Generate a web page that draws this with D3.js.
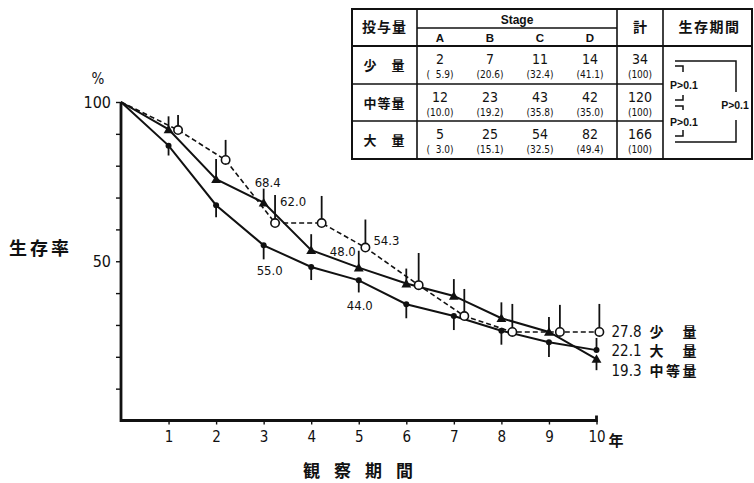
<!DOCTYPE html>
<html>
<head>
<meta charset="utf-8">
<script src="https://cdn.jsdelivr.net/npm/d3@7"></script>
<style>
    body { margin: 0; background: #fff; }
    svg { display: block; }
    text { fill: #111; }
    .num { font-family: "Liberation Sans Narrow", "DejaVu Sans Condensed", "Liberation Sans", sans-serif; }
    .jp { font-family: "Noto Sans CJK JP", sans-serif; font-weight: 700; }
    .series { fill: none; stroke: #111; }
</style>
</head>
<body>
<div id="wrapper"></div>
<script>
// data
const years = [0, 1, 2, 3, 4, 5, 6, 7, 8, 9, 10];
// the open-circle series is plotted a little right of each year in the original
const smallDoseYears = [0, 1.2, 2.2, 3.24, 4.22, 5.14, 6.26, 7.22, 8.23, 9.23, 10.06];
const smallDose = [100, 91.2, 81.8, 62.0, 62.0, 54.3, 42.5, 32.8, 27.8, 27.8, 27.8];
const mediumDose = [100, 91.4, 75.8, 68.4, 53.5, 48.0, 43.0, 39.1, 32.1, 27.8, 19.3];
const largeDose = [100, 86.3, 67.6, 55.0, 48.2, 44.0, 36.5, 32.8, 28.2, 24.6, 22.1];
// error bar lengths (%), + up / - down, none at year 0
const smallDoseErr = [0, 4.7, 6.3, 8.8, 8.5, 8.8, 10.1, 8.5, 8.8, 8.5, 8.8];
const mediumDoseErr = [0, 4.1, 6.3, 4.4, 5.0, 5.3, 4.7, 5.3, 5.0, 4.7, -3.5];
const largeDoseErr = [0, -3.1, -3.8, -4.4, -4.1, -3.8, -4.4, -4.4, -4.4, -4.7, 3.8];

const seriesNames = ["少　量", "大　量", "中等量"];
const endValues = ["27.8", "22.1", "19.3"];
const yTickValues = [10, 20, 30, 40, 50, 60, 70, 80, 90, 100];
const yTickLabels = [50, 100];
const xTickValues = [1, 2, 3, 4, 5, 6, 7, 8, 9, 10];

// table
const doseGroups = ["少　量", "中等量", "大　量"];
const stages = ["A", "B", "C", "D"];
const stageCounts = [[2, 7, 11, 14], [12, 23, 43, 42], [5, 25, 54, 82]];
const stagePercents = [["5.9", "20.6", "32.4", "41.1"], ["10.0", "19.2", "35.8", "35.0"], ["3.0", "15.1", "32.5", "49.4"]];
const totals = [34, 120, 166];
const pairTests = ["P>0.1", "P>0.1", "P>0.1"];

function draw() {

    // 1. dimensions
    const dimensions = {
        width: 754,
        height: 483,
        margin: { top: 102, right: 157, bottom: 63, left: 121 },
    };
    dimensions.boundedWidth = dimensions.width - dimensions.margin.left - dimensions.margin.right;
    dimensions.boundedHeight = dimensions.height - dimensions.margin.top - dimensions.margin.bottom;

    const wrapper = d3.select("#wrapper")
        .append("svg")
        .attr("width", dimensions.width)
        .attr("height", dimensions.height);

    const bounds = wrapper.append("g")
        .attr("transform", `translate(${dimensions.margin.left},${dimensions.margin.top})`);

    // 2. scales
    const xScale = d3.scaleLinear()
        .domain([0, 10])
        .range([0, dimensions.boundedWidth - 0.5]);
    const yScale = d3.scaleLinear()
        .domain([0, 100])
        .range([dimensions.boundedHeight + 0.5, 0]);

    // 3. axes
    const yAxis = bounds.append("g")
        .call(d3.axisLeft(yScale)
            .tickValues(yTickValues)
            .tickSize(5)
            .tickPadding(5)
            .tickFormat(d => yTickLabels.includes(d) ? d : ""));
    yAxis.select(".domain").remove();
    yAxis.selectAll(".tick line").attr("stroke", "#111").attr("stroke-width", 1.4);
    yAxis.selectAll("text").attr("class", "num").style("font-size", "16px").attr("fill", "#111");

    const xAxis = bounds.append("g")
        .attr("transform", `translate(0,${yScale(0)})`)
        .call(d3.axisBottom(xScale)
            .tickValues(xTickValues)
            .tickSize(4)
            .tickPadding(7));
    xAxis.select(".domain").remove();
    xAxis.selectAll(".tick line").attr("stroke", "#111").attr("stroke-width", 1.4);
    xAxis.selectAll("text").attr("class", "num").style("font-size", "15px").attr("fill", "#111");

    bounds.append("path")
        .attr("d", `M${xScale(0)},${yScale(100)} V${yScale(0)} H${xScale(10)} v-5`)
        .attr("fill", "none")
        .attr("stroke", "#111")
        .attr("stroke-width", 2.8);

    bounds.append("text")
        .attr("class", "jp")
        .attr("x", xScale(10) + 12)
        .attr("y", yScale(0) + 25)
        .style("font-size", "15px")
        .text("年");

    wrapper.append("text")
        .attr("class", "num")
        .attr("x", 98)
        .attr("y", 84)
        .attr("text-anchor", "middle")
        .style("font-size", "15px")
        .text("%");

    wrapper.append("text")
        .attr("class", "jp")
        .attr("x", 9)
        .attr("y", 255)
        .style("font-size", "18px")
        .style("letter-spacing", "3px")
        .text("生存率");

    wrapper.append("text")
        .attr("class", "jp")
        .attr("x", 303)
        .attr("y", 477)
        .style("font-size", "17px")
        .style("letter-spacing", "14px")
        .text("観察期間");

    // 4. series
    const lineGenerator = d3.line()
        .x(d => xScale(d[0]))
        .y(d => yScale(d[1]));

    const smallPoints = d3.zip(smallDoseYears, smallDose, smallDoseErr);
    const mediumPoints = d3.zip(years, mediumDose, mediumDoseErr);
    const largePoints = d3.zip(years, largeDose, largeDoseErr);

    // error bars first, markers on top
    const drawErrorBars = points => {
        bounds.append("g")
            .selectAll("line")
            .data(points.slice(1))
            .enter()
            .append("line")
            .attr("x1", d => xScale(d[0]))
            .attr("x2", d => xScale(d[0]))
            .attr("y1", d => yScale(d[1]))
            .attr("y2", d => yScale(d[1] + d[2]))
            .attr("stroke", "#111")
            .attr("stroke-width", 1.8);
    };
    drawErrorBars(smallPoints);
    drawErrorBars(mediumPoints);
    drawErrorBars(largePoints);

    bounds.append("path")
        .attr("class", "series")
        .attr("d", lineGenerator(smallPoints))
        .attr("stroke-width", 1.6)
        .attr("stroke-dasharray", "5,3");
    bounds.append("path")
        .attr("class", "series")
        .attr("d", lineGenerator(mediumPoints))
        .attr("stroke-width", 2);
    bounds.append("path")
        .attr("class", "series")
        .attr("d", lineGenerator(largePoints))
        .attr("stroke-width", 2);

    bounds.append("g")
        .selectAll("circle")
        .data(largePoints.slice(1))
        .enter()
        .append("circle")
        .attr("cx", d => xScale(d[0]))
        .attr("cy", d => yScale(d[1]))
        .attr("r", 3)
        .attr("fill", "#111");

    bounds.append("g")
        .selectAll("path")
        .data(mediumPoints.slice(1))
        .enter()
        .append("path")
        .attr("transform", d => `translate(${xScale(d[0])},${yScale(d[1]) + 1})`)
        .attr("d", d3.symbol(d3.symbolTriangle).size(42))
        .attr("fill", "#111");

    bounds.append("g")
        .selectAll("circle")
        .data(smallPoints.slice(1))
        .enter()
        .append("circle")
        .attr("cx", d => xScale(d[0]))
        .attr("cy", d => yScale(d[1]))
        .attr("r", 4.2)
        .attr("fill", "#fff")
        .attr("stroke", "#111")
        .attr("stroke-width", 1.6);

    // value notes next to some points
    const notes = [
        { point: mediumPoints[3], dx: -9, dy: -16 },
        { point: smallPoints[3], dx: 5, dy: -17 },
        { point: largePoints[3], dx: -7, dy: 30 },
        { point: mediumPoints[5], dx: -29, dy: -12 },
        { point: smallPoints[5], dx: 8, dy: -3 },
        { point: largePoints[5], dx: -12, dy: 30 },
    ];
    bounds.selectAll(".note")
        .data(notes)
        .enter()
        .append("text")
        .attr("class", "num note")
        .attr("x", d => xScale(d.point[0]) + d.dx)
        .attr("y", d => yScale(d.point[1]) + d.dy)
        .style("font-size", "13px")
        .text(d => d.point[1].toFixed(1));

    // end labels
    const endLabels = bounds.append("g")
        .attr("transform", `translate(${xScale(10) + 15},${yScale(27.8) + 5})`);
    endLabels.selectAll(".end-value")
        .data(endValues)
        .enter()
        .append("text")
        .attr("class", "num end-value")
        .attr("y", (d, i) => i * 19.5)
        .style("font-size", "15px")
        .text(d => d);
    endLabels.selectAll(".end-name")
        .data(seriesNames)
        .enter()
        .append("text")
        .attr("class", "jp end-name")
        .attr("x", 38)
        .attr("y", (d, i) => i * 19.5)
        .style("font-size", "14px")
        .style("letter-spacing", "2.5px")
        .text(d => d);

    // 5. table
    const table = wrapper.append("g");
    const colEdges = [352, 417, 617, 663, 752];
    const rowEdges = [46, 84, 121, 159];
    const top = 9;
    const stageX = d3.scaleBand()
        .domain(stages)
        .range([colEdges[1], colEdges[2]]);

    const tableLine = (d, w) => table.append("path")
        .attr("d", d)
        .attr("fill", "none")
        .attr("stroke", "#111")
        .attr("stroke-width", w);

    tableLine(`M${colEdges[0]},${top} H${colEdges[4]} V${rowEdges[3]} H${colEdges[0]} Z`, 2);
    colEdges.slice(1, 4).forEach(x => tableLine(`M${x},${top} V${rowEdges[3]}`, 1.6));
    tableLine(`M${colEdges[0]},${rowEdges[0]} H${colEdges[4]}`, 2.2);
    tableLine(`M${colEdges[1]},28 H${colEdges[2]}`, 1.4);
    rowEdges.slice(1, 3).forEach(y => tableLine(`M${colEdges[0]},${y} H${colEdges[3]}`, 1.6));

    const headerY = 32;
    table.append("text").attr("class", "jp")
        .attr("x", (colEdges[0] + colEdges[1]) / 2).attr("y", headerY)
        .attr("text-anchor", "middle").style("font-size", "14px").style("letter-spacing", "1px")
        .text("投与量");
    table.append("text")
        .attr("x", (colEdges[1] + colEdges[2]) / 2).attr("y", 24)
        .attr("text-anchor", "middle")
        .style("font-family", "'Liberation Sans', Arial, sans-serif")
        .style("font-weight", 700).style("font-size", "12px")
        .text("Stage");
    table.selectAll(".stage")
        .data(stages)
        .enter()
        .append("text")
        .attr("x", d => stageX(d) + stageX.bandwidth() / 2 - 2)
        .attr("y", 42)
        .attr("text-anchor", "middle")
        .style("font-family", "'Liberation Sans', Arial, sans-serif")
        .style("font-weight", 700).style("font-size", "11.5px")
        .text(d => d);
    table.append("text").attr("class", "jp")
        .attr("x", (colEdges[2] + colEdges[3]) / 2).attr("y", headerY)
        .attr("text-anchor", "middle").style("font-size", "14px")
        .text("計");
    table.append("text").attr("class", "jp")
        .attr("x", (colEdges[3] + colEdges[4]) / 2 + 2).attr("y", headerY)
        .attr("text-anchor", "middle").style("font-size", "14px").style("letter-spacing", "1.5px")
        .text("生存期間");

    const rows = table.selectAll(".row")
        .data(doseGroups)
        .enter()
        .append("g")
        .attr("transform", (d, i) => `translate(0,${(rowEdges[i] + rowEdges[i + 1]) / 2})`);
    rows.append("text").attr("class", "jp")
        .attr("x", (colEdges[0] + colEdges[1]) / 2).attr("y", 5)
        .attr("text-anchor", "middle").style("font-size", "13px").style("letter-spacing", "1px")
        .text(d => d);
    rows.each(function (d, i) {
        const row = d3.select(this);
        stages.forEach((s, j) => {
            const cx = stageX(s) + stageX.bandwidth() / 2 - 2;
            row.append("text").attr("class", "num")
                .attr("x", cx).attr("y", -1)
                .attr("text-anchor", "middle").style("font-size", "14px")
                .text(stageCounts[i][j]);
            row.append("text").attr("class", "num")
                .attr("x", cx).attr("y", 13)
                .attr("text-anchor", "middle").style("font-size", "10px")
                .text(`(${stagePercents[i][j].padStart(4, "\u2007")})`);
        });
        row.append("text").attr("class", "num")
            .attr("x", (colEdges[2] + colEdges[3]) / 2).attr("y", -1)
            .attr("text-anchor", "middle").style("font-size", "14px")
            .text(totals[i]);
        row.append("text").attr("class", "num")
            .attr("x", (colEdges[2] + colEdges[3]) / 2).attr("y", 13)
            .attr("text-anchor", "middle").style("font-size", "10px")
            .text("(100)");
    });

    // brackets for the survival comparison
    tableLine("M675,61 H736 V92 M736,120 V142 H675", 1.5);
    tableLine("M675,66 H683 V72 M683,95 V100 H675", 1.5);
    tableLine("M675,106 H683 V110 M683,130 V136 H675", 1.5);
    const pLabel = (x, y, t, anchor) => table.append("text")
        .attr("x", x).attr("y", y)
        .attr("text-anchor", anchor)
        .style("font-family", "'Liberation Sans', Arial, sans-serif")
        .style("font-weight", 700).style("font-size", "10.5px")
        .text(t);
    pLabel(670, 89, pairTests[0], "start");
    pLabel(670, 126, pairTests[1], "start");
    pLabel(735, 109, pairTests[2], "middle");
}

draw();
</script>
</body>
</html>
